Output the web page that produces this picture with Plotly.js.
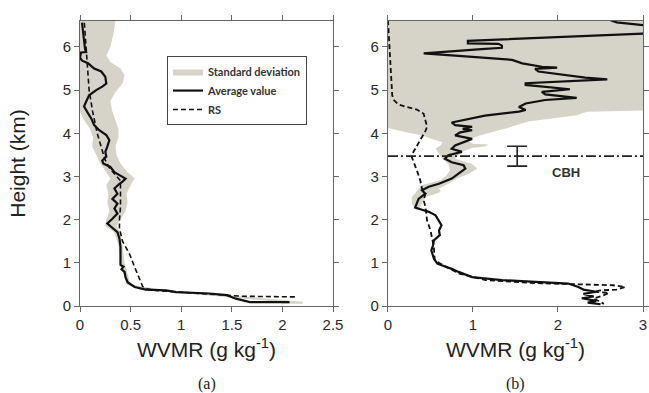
<!DOCTYPE html>
<html>
<head>
<meta charset="utf-8">
<script src="https://cdn.plot.ly/plotly-3.0.1.min.js"></script>
<style>html,body{margin:0;padding:0;background:#fff;}#chart{width:649px;height:393px;}</style>
</head>
<body>
<div id="chart"></div>
<script>
// ---------- Panel (a) ----------
const aAvgH = [6.56,6.35,6.10,5.95,5.88,5.87,5.75,5.68,5.62,5.50,5.43,5.31,5.15,5.08,5.00,4.88,4.73,4.62,4.46,4.35,4.19,4.07,3.96,3.84,3.69,3.57,3.46,3.37,3.30,3.22,3.10,3.03,2.95,2.88,2.83,2.72,2.60,2.48,2.37,2.26,2.14,2.02,1.91,1.83,1.71,1.56,1.37,1.14,0.95,0.91,0.85,0.79,0.67,0.55,0.44,0.38,0.36,0.32,0.29,0.25,0.17,0.09,0.09];
const aAvgV = [0.02,0.03,0.04,0.05,0.06,0.01,0.00,0.02,0.08,0.14,0.21,0.25,0.26,0.22,0.16,0.09,0.06,0.04,0.08,0.11,0.14,0.19,0.26,0.29,0.27,0.25,0.26,0.22,0.23,0.30,0.34,0.39,0.45,0.42,0.39,0.34,0.37,0.32,0.37,0.34,0.37,0.32,0.27,0.31,0.37,0.39,0.40,0.40,0.40,0.43,0.41,0.44,0.45,0.47,0.54,0.65,0.85,0.95,1.28,1.45,1.54,1.68,2.07];

const aRsH = [6.56,6.00,5.50,5.00,4.50,4.00,3.60,3.40,3.20,3.00,2.90,2.60,2.30,2.00,1.80,1.50,1.20,0.90,0.60,0.45,0.40,0.36,0.30,0.26,0.25,0.225,0.21];
const aRsV = [0.043,0.06,0.075,0.09,0.125,0.17,0.22,0.245,0.29,0.37,0.40,0.40,0.40,0.39,0.39,0.42,0.49,0.54,0.59,0.62,0.65,0.75,1.12,1.41,1.54,1.61,2.15];

const aSdH  = [6.60,6.30,6.00,5.80,5.65,5.50,5.35,5.15,4.95,4.75,4.50,4.30,4.10,3.90,3.70,3.50,3.30,3.10,2.95,2.80,2.60,2.40,2.20,2.00,1.85,1.70,1.40,1.00,0.50,0.38,0.30,0.20,0.10,0.05];
const aSdLo = [0.00,0.00,0.00,0.00,0.00,0.00,0.00,0.00,0.00,0.00,0.00,0.04,0.10,0.13,0.12,0.16,0.20,0.26,0.30,0.26,0.28,0.27,0.29,0.26,0.25,0.34,0.38,0.40,0.46,0.60,1.00,1.50,1.95,2.00];
const aSdHi = [0.35,0.33,0.30,0.26,0.30,0.40,0.44,0.42,0.35,0.30,0.32,0.35,0.38,0.38,0.35,0.36,0.40,0.47,0.54,0.50,0.46,0.47,0.45,0.40,0.36,0.40,0.42,0.44,0.50,0.80,1.20,1.70,2.20,2.20];

// ---------- Panel (b) ----------
const bAvgH = [6.62,6.57,6.50,6.42,6.31,6.16,6.14,6.08,6.07,6.03,5.98,5.95,5.88,5.85,5.80,5.75,5.70,5.62,5.54,5.52,5.49,5.43,5.35,5.29,5.25,5.16,5.12,5.08,5.02,4.96,4.90,4.82,4.77,4.69,4.61,4.54,4.50,4.41,4.34,4.25,4.19,4.15,4.10,4.07,4.02,3.95,3.87,3.79,3.72,3.64,3.57,3.49,3.41,3.33,3.26,3.18,3.06,2.95,2.83,2.76,2.68,2.60,2.48,2.37,2.28,2.23,2.18,2.10,1.98,1.87,1.75,1.64,1.52,1.40,1.29,1.10,0.98,0.92,0.86,0.79,0.67,0.60,0.56,0.52,0.44,0.38,0.33,0.28,0.22,0.18,0.12,0.08,0.04];
const bAvgV = [2.62,2.69,3.03,3.15,3.05,1.26,0.94,0.94,1.30,1.34,1.34,1.10,0.60,0.42,0.79,1.14,1.46,1.58,1.81,1.99,1.73,1.77,2.09,2.32,2.58,1.62,1.62,1.85,2.14,1.81,1.85,2.22,1.85,1.62,1.54,1.62,1.54,1.14,0.95,0.75,0.79,0.99,0.88,0.99,0.85,0.79,0.99,0.87,0.79,0.75,0.87,0.71,0.67,0.75,0.89,0.91,0.83,0.75,0.60,0.48,0.40,0.44,0.36,0.34,0.32,0.40,0.48,0.56,0.60,0.63,0.60,0.61,0.54,0.53,0.51,0.54,0.58,0.68,0.75,0.83,0.99,1.34,1.73,2.12,2.24,2.30,2.45,2.30,2.42,2.28,2.45,2.35,2.50];

const bRsH = [6.62,6.30,6.00,5.50,5.10,4.88,4.77,4.67,4.62,4.55,4.45,4.30,4.15,4.05,3.91,3.76,3.57,3.45,3.33,3.14,2.91,2.72,2.60,2.45,2.30,1.98,1.75,1.52,1.37,1.06,0.91,0.75,0.60,0.53,0.49,0.48,0.44,0.38,0.36,0.33,0.30,0.25,0.17,0.10,0.05];
const bRsV = [0.00,0.01,0.02,0.03,0.04,0.05,0.07,0.12,0.20,0.34,0.42,0.44,0.46,0.44,0.40,0.36,0.30,0.28,0.30,0.34,0.38,0.40,0.44,0.42,0.44,0.46,0.50,0.52,0.54,0.55,0.68,0.84,1.15,1.74,2.30,2.65,2.79,2.69,2.50,2.42,2.60,2.54,2.42,2.50,2.54];

const bSdRightH = [6.65,4.55,4.53,4.50,4.42,4.27,4.15,4.07,3.95,3.84,3.76,3.74,3.70,3.66,3.57,3.41,3.29,3.18,3.06,2.95,2.83,2.72,2.64,2.52,2.29,2.22];
const bSdRightV = [3.10,3.10,3.00,2.34,2.22,1.65,1.45,1.30,1.08,0.93,1.00,1.18,1.15,0.99,0.87,0.79,0.99,1.05,0.95,0.81,0.71,0.60,0.62,0.44,0.38,0.33];
const bSdLeftH  = [2.22,2.25,2.37,2.52,2.72,2.80,2.91,3.03,3.14,3.29,3.41,3.53,3.64,3.72,3.79,3.87,3.95,4.03,4.12,6.65];
const bSdLeftV  = [0.33,0.32,0.28,0.28,0.36,0.40,0.62,0.69,0.73,0.71,0.64,0.60,0.56,0.62,0.64,0.52,0.40,0.20,0.00,0.00];

const cbhHeight = 3.47;
const cbhErrX = 1.52;
const cbhErr = 0.23;
const cbhLabelX = 2.09;
const cbhLabelY = 3.10;

const xTitle = 'WVMR (g kg<sup>-1</sup>)';
const yTitle = 'Height (km)';
const legendNames = ['Standard deviation', 'Average value', 'RS'];
const panelLabels = ['(a)', '(b)'];

// ---------- styles ----------
const bandColor = '#d6d3c9';
const lineColor = '#111111';
const rsDash = '5px,3px';
const sans = 'Liberation Sans';

function polygon(h, lo, hi) {
  return {
    x: lo.concat(hi.slice().reverse()),
    y: h.concat(h.slice().reverse())
  };
}
const aBand = polygon(aSdH, aSdLo, aSdHi);
const bBand = {
  x: bSdRightV.concat(bSdLeftV),
  y: bSdRightH.concat(bSdLeftH)
};

const traces = [
  {x: aBand.x, y: aBand.y, xaxis: 'x', yaxis: 'y', type: 'scatter', mode: 'lines',
   fill: 'toself', fillcolor: bandColor, line: {width: 0, color: bandColor},
   name: legendNames[0], showlegend: true, hoverinfo: 'skip'},
  {x: aAvgV, y: aAvgH, xaxis: 'x', yaxis: 'y', type: 'scatter', mode: 'lines',
   line: {color: lineColor, width: 2.2}, name: legendNames[1], showlegend: true},
  {x: aRsV, y: aRsH, xaxis: 'x', yaxis: 'y', type: 'scatter', mode: 'lines',
   line: {color: lineColor, width: 1.6, dash: rsDash}, name: legendNames[2], showlegend: true},

  {x: bBand.x, y: bBand.y, xaxis: 'x2', yaxis: 'y2', type: 'scatter', mode: 'lines',
   fill: 'toself', fillcolor: bandColor, line: {width: 0, color: bandColor},
   showlegend: false, hoverinfo: 'skip'},
  {x: bAvgV, y: bAvgH, xaxis: 'x2', yaxis: 'y2', type: 'scatter', mode: 'lines',
   line: {color: lineColor, width: 2.2}, showlegend: false},
  {x: bRsV, y: bRsH, xaxis: 'x2', yaxis: 'y2', type: 'scatter', mode: 'lines',
   line: {color: lineColor, width: 1.8, dash: rsDash}, showlegend: false},
  {x: [cbhErrX], y: [cbhHeight], xaxis: 'x2', yaxis: 'y2', type: 'scatter', mode: 'markers',
   marker: {size: 1, color: 'rgba(0,0,0,0)'},
   error_y: {type: 'data', array: [cbhErr], visible: true, width: 10, thickness: 1.6, color: '#222'},
   showlegend: false}
];

const axisFont = {family: sans, size: 15, color: '#2a2a2a'};
const titleFont = {family: sans, size: 21, color: '#222'};
function xax(domain, range, dtick, anchor) {
  return {
    domain: domain, range: range, dtick: dtick, tick0: 0, anchor: anchor,
    showline: true, linecolor: '#666', linewidth: 1, mirror: 'allticks',
    ticks: 'outside', ticklen: 5, tickcolor: '#666', tickwidth: 1,
    showgrid: false, zeroline: false, tickfont: axisFont,
    title: {text: xTitle, font: titleFont, standoff: 10},
    fixedrange: true
  };
}
function yax(anchor, withTitle) {
  const o = {
    domain: [0, 1], range: [0, 6.6], dtick: 1, tick0: 0, anchor: anchor,
    showline: true, linecolor: '#666', linewidth: 1, mirror: 'allticks',
    ticks: 'outside', ticklen: 5, tickcolor: '#666', tickwidth: 1,
    showgrid: false, zeroline: false, tickfont: axisFont, fixedrange: true
  };
  if (withTitle) o.title = {text: yTitle, font: titleFont, standoff: 31};
  return o;
}

const layout = {
  width: 649, height: 393,
  margin: {l: 80, r: 6, t: 21, b: 87},
  paper_bgcolor: '#fff', plot_bgcolor: '#fff',
  showlegend: true,
  legend: {
    x: 0.1545, y: 0.877, xanchor: 'left', yanchor: 'top',
    bgcolor: '#fff', bordercolor: '#444', borderwidth: 1,
    font: {family: 'Lato', size: 11, color: '#333', weight: 'bold'},
    traceorder: 'normal', itemwidth: 30, tracegroupgap: 0
  },
  xaxis: xax([0, 0.4494], [0, 2.5], 0.5, 'y'),
  yaxis: yax('x', true),
  xaxis2: xax([0.547, 1], [0, 3], 1, 'y2'),
  yaxis2: yax('x2', false),
  shapes: [{
    type: 'line', xref: 'x2 domain', yref: 'y2', x0: 0, x1: 1, y0: cbhHeight, y1: cbhHeight,
    line: {color: '#222', width: 1.6, dash: '10px,3px,2px,3px'}
  }],
  annotations: [
    {text: 'CBH', xref: 'x2', yref: 'y2', x: cbhLabelX, y: cbhLabelY, showarrow: false,
     font: {family: sans, size: 13, color: '#333', weight: 'bold'}},
    {text: panelLabels[0], xref: 'paper', yref: 'paper', x: 0.2247, y: -0.274, showarrow: false,
     xanchor: 'center', yanchor: 'middle',
     font: {family: 'Liberation Serif', size: 16, color: '#222'}},
    {text: panelLabels[1], xref: 'paper', yref: 'paper', x: 0.7735, y: -0.274, showarrow: false,
     xanchor: 'center', yanchor: 'middle',
     font: {family: 'Liberation Serif', size: 16, color: '#222'}}
  ]
};

Plotly.newPlot('chart', traces, layout, {staticPlot: true, displayModeBar: false});
</script>
</body>
</html>
